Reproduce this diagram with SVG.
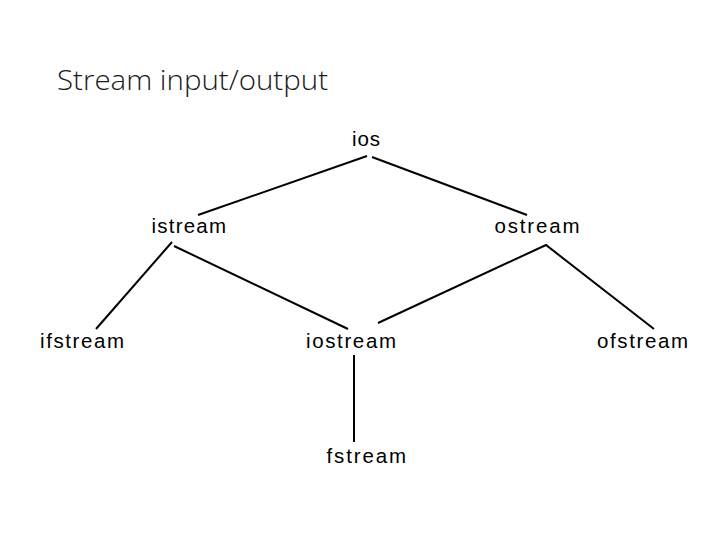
<svg xmlns="http://www.w3.org/2000/svg" width="720" height="540" viewBox="0 0 720 540">
<style>
.bg{fill:#ffffff}
.title{font-family:"Open Sans","Liberation Sans",sans-serif;font-size:28px;fill:#1a1a1a;font-weight:300}
.lbl{font-family:"Liberation Sans",Arial,sans-serif;font-size:20.5px;fill:#000000}
.edge{stroke:#000000;stroke-width:2;fill:none;stroke-linecap:butt;stroke-linejoin:miter}
</style>
<rect class="bg" x="0" y="0" width="720" height="540"/>
<text id="title" class="title" x="57" y="90" textLength="271" lengthAdjust="spacingAndGlyphs">Stream input/output</text>
<g id="connectors">
<line class="edge" x1="367" y1="156" x2="198" y2="215"/>
<line class="edge" x1="372" y1="157" x2="527" y2="215"/>
<line class="edge" x1="172" y1="242" x2="96" y2="329"/>
<line class="edge" x1="174" y1="246" x2="348" y2="329"/>
<polyline class="edge" points="378,323 546,245 654,329"/>
<line class="edge" x1="354" y1="355" x2="354" y2="442"/>
</g>
<g id="node-ios"><text class="lbl" x="352" y="146" textLength="28" lengthAdjust="spacing">ios</text></g>
<g id="node-istream"><text class="lbl" x="151.5" y="233" textLength="74.5" lengthAdjust="spacing">istream</text></g>
<g id="node-ostream"><text class="lbl" x="494.5" y="233" textLength="85" lengthAdjust="spacing">ostream</text></g>
<g id="node-ifstream"><text class="lbl" x="40" y="348" textLength="84" lengthAdjust="spacing">ifstream</text></g>
<g id="node-iostream"><text class="lbl" x="306" y="348" textLength="90" lengthAdjust="spacing">iostream</text></g>
<g id="node-ofstream"><text class="lbl" x="597" y="348" textLength="91" lengthAdjust="spacing">ofstream</text></g>
<g id="node-fstream"><text class="lbl" x="326.5" y="463" textLength="79.5" lengthAdjust="spacing">fstream</text></g>
</svg>
